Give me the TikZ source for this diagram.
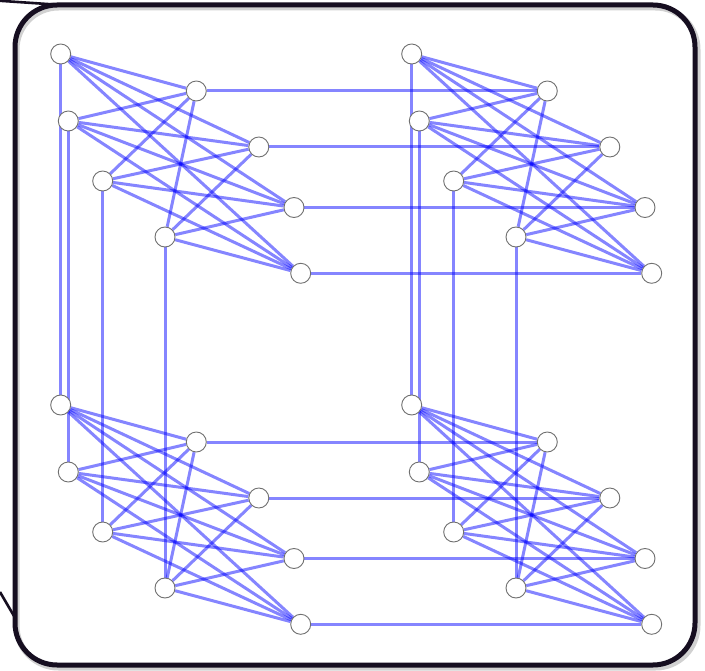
\documentclass[tikz,border=0pt]{standalone}
\usepackage{tikz}
\usetikzlibrary{backgrounds}
\definecolor{frameInk}{RGB}{22,14,32}
\definecolor{qubitRim}{RGB}{112,112,112}
\definecolor{couplerBlue}{RGB}{0,0,255}
\begin{document}
\begin{tikzpicture}[
  x=1pt,
  y=-1pt,
  qubit/.style={circle, draw=qubitRim, fill=white, line width=0.9pt, minimum size=20pt, inner sep=0pt},
  coupler/.style={draw=couplerBlue, draw opacity=0.48, line width=3pt},
  frame/.style={draw=frameInk, line width=5pt, rounded corners=42pt},
  stub/.style={draw=frameInk, line width=2.6pt}
]
\useasboundingbox (0,0) rectangle (705,671);

% pieces of the frame behind
\draw[stub] (0,0.8) -- (62,5);
\draw[stub] (0,592) -- (14,616);

% frame with a soft shadow
\draw[draw=black, draw opacity=0.18, line width=6pt, rounded corners=42pt] (16.5,7.5) rectangle (697.5,667.5);
\draw[frame] (15,5) rectangle (695,665);

% unit cells: left and right halves
\foreach \cx/\cy/\cn in {0/0/a, 351/0/b, 0/351/c, 351/351/d} {
  \foreach \lx/\ly/\rx/\ry [count=\i] in {60.7/54/196.3/91, 68.3/121/258.8/147, 102.7/181/294/207.5, 165/237/300.7/273.3} {
    \node[qubit] (\cn l\i) at (\cx+\lx,\cy+\ly) {};
    \node[qubit] (\cn r\i) at (\cx+\rx,\cy+\ry) {};
  }
}

\begin{pgfonlayer}{background}
\fill[white] (0,0) rectangle (705,671);
% couplers inside each cell
\foreach \cn in {a,b,c,d}
  \foreach \i in {1,...,4}
    \foreach \j in {1,...,4}
      \draw[coupler] (\cn l\i) -- (\cn r\j);
% couplers between cells
\foreach \i in {1,...,4} {
  \draw[coupler] (ar\i) -- (br\i);
  \draw[coupler] (cr\i) -- (dr\i);
  \draw[coupler] (al\i) -- (cl\i);
  \draw[coupler] (bl\i) -- (dl\i);
}
\end{pgfonlayer}
\end{tikzpicture}
\end{document}
